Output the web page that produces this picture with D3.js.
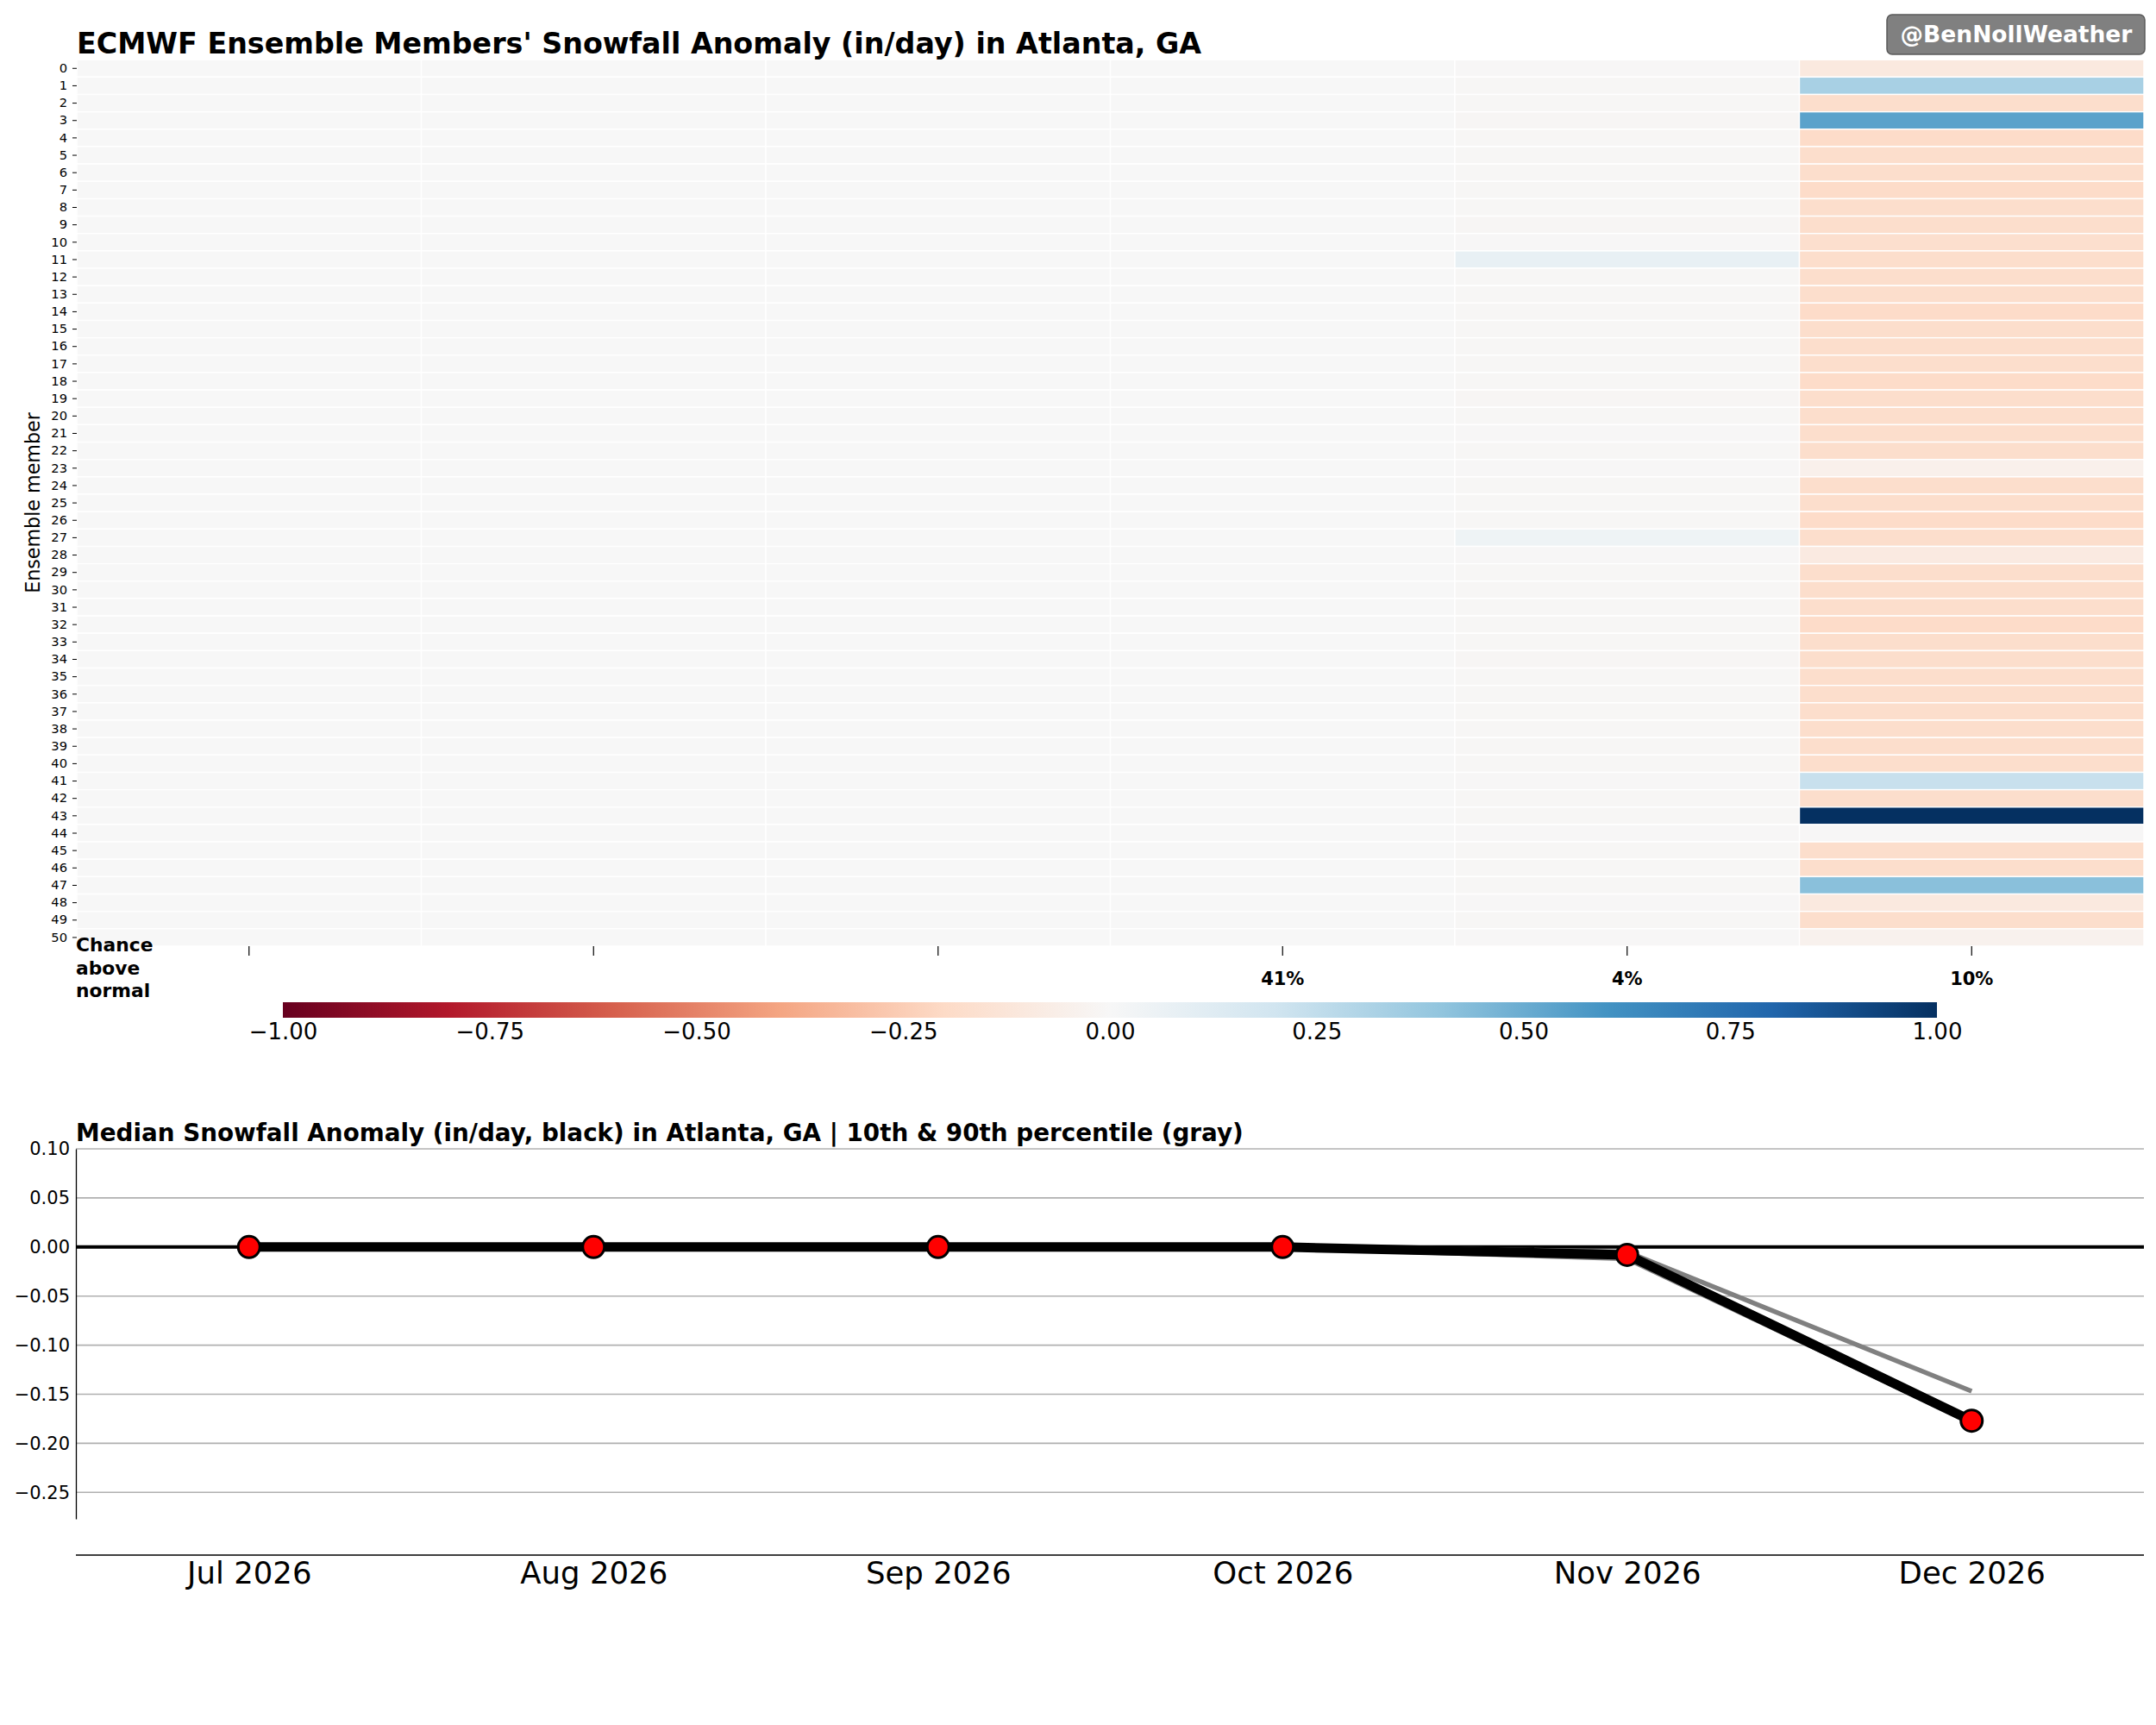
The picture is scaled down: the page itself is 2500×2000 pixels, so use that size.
<!DOCTYPE html>
<html>
  <head>
    <meta charset="utf-8">
    <script src="https://d3js.org/d3.v7.min.js"></script>
    <style>
      body { margin: 0; background: #fff; }
      text { font-family: "DejaVu Sans", sans-serif; }
    </style>
  </head>
  <body>
    <svg id="chart" width="2500" height="2000"></svg>
    <script>
      // ---- data ----
      const months = ["Jul 2026", "Aug 2026", "Sep 2026", "Oct 2026", "Nov 2026", "Dec 2026"];
      const members = d3.range(51);

      const anomJul = [0,0,0,0,0,0,0,0,0,0, 0,0,0,0,0,0,0,0,0,0, 0,0,0,0,0,0,0,0,0,0,
                       0,0,0,0,0,0,0,0,0,0, 0,0,0,0,0,0,0,0,0,0, 0];
      const anomAug = [0,0,0,0,0,0,0,0,0,0, 0,0,0,0,0,0,0,0,0,0, 0,0,0,0,0,0,0,0,0,0,
                       0,0,0,0,0,0,0,0,0,0, 0,0,0,0,0,0,0,0,0,0, 0];
      const anomSep = [0,0,0,0,0,0,0,0,0,0, 0,0,0,0,0,0,0,0,0,0, 0,0,0,0,0,0,0,0,0,0,
                       0,0,0,0,0,0,0,0,0,0, 0,0,0,0,0,0,0,0,0,0, 0];
      const anomOct = [-0.001, 0.002, -0.001, 0.002, -0.001, 0.002, -0.001, -0.001, 0.002, -0.001,
                       -0.001, 0.002, 0.002, -0.001, -0.001, 0.002, -0.001, 0.002, -0.001, 0.002,
                       -0.001, 0.002, 0.002, -0.001, 0.002, -0.001, -0.001, 0.002, -0.001, -0.001,
                       0.002, -0.001, -0.001, 0.002, -0.001, -0.001, 0.002, -0.001, 0.002, -0.001,
                       -0.001, 0.002, -0.001, 0.002, -0.001, 0.002, -0.001, 0.002, -0.001, -0.001,
                       -0.001];
      const anomNov = [-0.006, -0.010, -0.008, -0.012, -0.010, -0.008, -0.009, -0.010, -0.008, -0.011,
                       -0.006, 0.080, -0.008, -0.010, -0.009, -0.008, -0.007, -0.010, -0.008, -0.012,
                       -0.008, -0.006, -0.010, -0.005, -0.009, -0.008, -0.010, 0.050, -0.006, -0.009,
                       -0.008, -0.010, -0.007, -0.008, -0.011, -0.008, -0.009, -0.008, -0.010, -0.007,
                       -0.008, -0.006, -0.010, -0.008, -0.006, -0.009, -0.008, -0.007, -0.006, -0.010,
                       -0.006];
      const anomDec = [-0.10, 0.33, -0.18, 0.54, -0.19, -0.18, -0.18, -0.19, -0.18, -0.18,
                       -0.17, -0.18, -0.18, -0.18, -0.19, -0.18, -0.18, -0.18, -0.19, -0.18,
                       -0.18, -0.18, -0.18, -0.05, -0.18, -0.18, -0.19, -0.18, -0.09, -0.18,
                       -0.18, -0.18, -0.19, -0.18, -0.18, -0.18, -0.18, -0.18, -0.18, -0.18,
                       -0.18, 0.23, -0.18, 1.00, -0.005, -0.18, -0.18, 0.42, -0.10, -0.18,
                       -0.04];
      const anomByMonth = [anomJul, anomAug, anomSep, anomOct, anomNov, anomDec];
      const chanceLabels = ["", "", "", "41%", "4%", "10%"];

      const median = [0.000, 0.000, 0.000, 0.000, -0.008, -0.177];
      const p10 = [0.000, 0.000, 0.000, -0.001, -0.012, -0.179];
      const p90 = [0.000, 0.000, 0.000, 0.001, -0.005, -0.147];

      const cbarTicks = [-1.00, -0.75, -0.50, -0.25, 0.00, 0.25, 0.50, 0.75, 1.00];
      const lineTicks = [0.10, 0.05, 0.00, -0.05, -0.10, -0.15, -0.20, -0.25];

      // matplotlib RdBu stops
      const rdbu = ["#67001f", "#b2182b", "#d6604d", "#f4a582", "#fddbc7", "#f7f7f7",
                    "#d1e5f0", "#92c5de", "#4393c3", "#2166ac", "#053061"];

      const svg = d3.select("#chart");
      svg.append("rect").attr("width", 2500).attr("height", 2000).attr("fill", "#fff");

      const left = 89, right = 2486;

      const color = d3.scaleLinear()
        .domain(d3.range(11).map(i => -1 + i * 0.2))
        .range(rdbu)
        .clamp(true);

      // ---- heatmap ----
      const xBand = d3.scaleBand().domain(months).range([left, right]);
      const yBand = d3.scaleBand().domain(members).range([69.2, 1097]);

      const cells = [];
      months.forEach(function(m, j) {
        members.forEach(function(k) {
          cells.push({ month: m, member: k, value: anomByMonth[j][k] });
        });
      });

      svg.append("g").selectAll("rect")
        .data(cells)
        .enter()
        .append("rect")
        .attr("x", d => xBand(d.month))
        .attr("y", d => yBand(d.member))
        .attr("width", xBand.bandwidth())
        .attr("height", yBand.bandwidth())
        .attr("fill", d => color(d.value))
        .attr("stroke", "#fff")
        .attr("stroke-width", 1.4);

      svg.append("text")
        .attr("x", left)
        .attr("y", 62)
        .attr("font-size", 33.3)
        .attr("font-weight", "bold")
        .text("ECMWF Ensemble Members' Snowfall Anomaly (in/day) in Atlanta, GA");

      // member axis
      const rowAxis = svg.append("g")
        .attr("transform", "translate(" + left + ",0)")
        .call(d3.axisLeft(yBand).tickSize(5).tickPadding(6));
      rowAxis.select(".domain").remove();
      rowAxis.selectAll("text").attr("font-size", 14.7).style("font-family", "DejaVu Sans");
      rowAxis.selectAll("line").attr("stroke-width", 1);

      svg.append("text")
        .attr("transform", "translate(46,583) rotate(-90)")
        .attr("text-anchor", "middle")
        .attr("font-size", 22.2)
        .text("Ensemble member");

      // chance above normal labels
      const chanceAxis = svg.append("g")
        .attr("transform", "translate(0,1097)")
        .call(d3.axisBottom(xBand).tickSize(11).tickPadding(19)
          .tickFormat((d, i) => chanceLabels[i]));
      chanceAxis.select(".domain").remove();
      chanceAxis.selectAll("text").attr("font-size", 21).attr("font-weight", "bold")
        .style("font-family", "DejaVu Sans");
      chanceAxis.selectAll("line").attr("stroke-width", 1.2);

      svg.append("text")
        .attr("font-size", 21.8)
        .attr("font-weight", "bold")
        .selectAll("tspan")
        .data(["Chance", "above", "normal"])
        .enter()
        .append("tspan")
        .attr("x", 88)
        .attr("y", (d, i) => 1103 + i * 26.5)
        .text(d => d);

      // ---- colorbar ----
      const cScale = d3.scaleLinear().domain([-1, 1]).range([328, 2246]);
      const grad = svg.append("defs").append("linearGradient")
        .attr("id", "rdbu")
        .attr("x1", "0%").attr("x2", "100%").attr("y1", "0%").attr("y2", "0%");
      rdbu.forEach(function(c, i) {
        grad.append("stop").attr("offset", (i * 10) + "%").attr("stop-color", c);
      });
      svg.append("rect")
        .attr("x", cScale(-1))
        .attr("y", 1162)
        .attr("width", cScale(1) - cScale(-1))
        .attr("height", 18)
        .attr("fill", "url(#rdbu)");

      const cAxis = svg.append("g")
        .attr("transform", "translate(0,1180)")
        .call(d3.axisBottom(cScale).tickValues(cbarTicks).tickSize(0).tickPadding(7)
          .tickFormat(d3.format(".2f")));
      cAxis.select(".domain").remove();
      cAxis.selectAll("text").attr("font-size", 26).style("font-family", "DejaVu Sans");

      // ---- median line chart ----
      const xPoint = d3.scalePoint().domain(months).range([left, right]).padding(0.5);
      const y = d3.scaleLinear().domain([-0.277, 0.1]).range([1761, 1332]);

      svg.append("text")
        .attr("x", 88)
        .attr("y", 1323)
        .attr("font-size", 27.8)
        .attr("font-weight", "bold")
        .text("Median Snowfall Anomaly (in/day, black) in Atlanta, GA | 10th & 90th percentile (gray)");

      svg.append("g").selectAll("line")
        .data(lineTicks)
        .enter()
        .append("line")
        .attr("x1", 88).attr("x2", right)
        .attr("y1", d => y(d)).attr("y2", d => y(d))
        .attr("stroke", "#b0b0b0")
        .attr("stroke-width", 1.6);

      const yAxis = svg.append("g")
        .attr("transform", "translate(88,0)")
        .call(d3.axisLeft(y).tickValues(lineTicks).tickSize(0).tickSizeOuter(0).tickPadding(7)
          .tickFormat(d3.format(".2f")));
      yAxis.selectAll("text").attr("font-size", 21).style("font-family", "DejaVu Sans");
      yAxis.select(".domain").attr("stroke-width", 1.3);

      // zero line
      svg.append("line")
        .attr("x1", 88).attr("x2", right)
        .attr("y1", y(0)).attr("y2", y(0))
        .attr("stroke", "#000")
        .attr("stroke-width", 4);

      const line = d3.line().x((d, i) => xPoint(months[i])).y(d => y(d));

      [p10, p90].forEach(function(p) {
        svg.append("path")
          .attr("d", line(p))
          .attr("fill", "none")
          .attr("stroke", "#808080")
          .attr("stroke-width", 5.5);
      });

      svg.append("path")
        .attr("d", line(median))
        .attr("fill", "none")
        .attr("stroke", "#000")
        .attr("stroke-width", 11)
        .attr("stroke-linejoin", "round");

      svg.append("g").selectAll("circle")
        .data(median)
        .enter()
        .append("circle")
        .attr("cx", (d, i) => xPoint(months[i]))
        .attr("cy", d => y(d))
        .attr("r", 12.5)
        .attr("fill", "red")
        .attr("stroke", "#000")
        .attr("stroke-width", 3);

      // month axis
      const mAxis = svg.append("g")
        .attr("transform", "translate(0,1803)")
        .call(d3.axisBottom(xPoint).tickSize(0).tickSizeOuter(0).tickPadding(8));
      mAxis.select(".domain").attr("d", "M88,0H" + right).attr("stroke-width", 1.4);
      mAxis.selectAll("text").attr("font-size", 35.5).style("font-family", "DejaVu Sans");

      // ---- handle badge ----
      const badge = svg.append("g");
      badge.append("rect")
        .attr("x", 2188).attr("y", 17)
        .attr("width", 299).attr("height", 46)
        .attr("rx", 6)
        .attr("fill", "#808080")
        .attr("stroke", "#5a5a5a")
        .attr("stroke-width", 1.5);
      badge.append("text")
        .attr("x", 2338).attr("y", 48.5)
        .attr("text-anchor", "middle")
        .attr("font-size", 26.5)
        .attr("font-weight", "bold")
        .attr("fill", "#fff")
        .text("@BenNollWeather");
    </script>
  </body>
</html>
